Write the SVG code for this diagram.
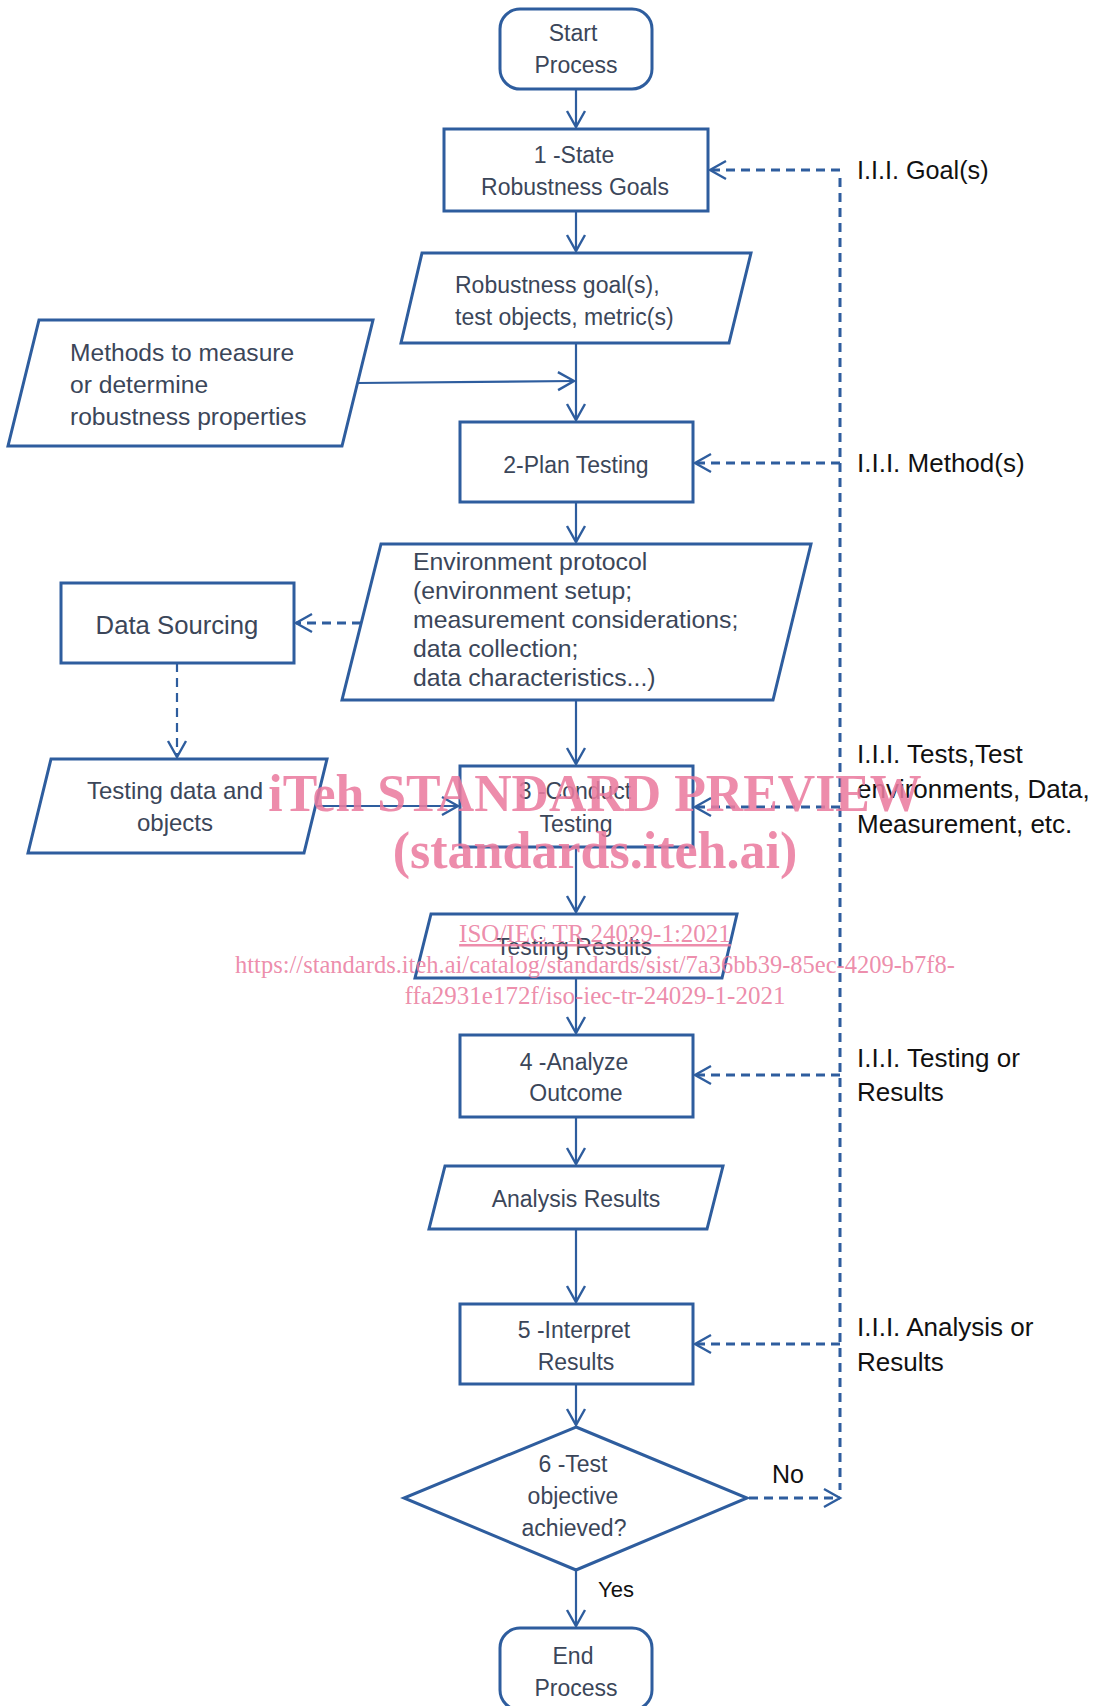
<svg xmlns="http://www.w3.org/2000/svg" width="1101" height="1706" viewBox="0 0 1101 1706">
<style>
  .box{fill:#fff;stroke:#2e5d9e;stroke-width:3}
  .t{font-family:"Liberation Sans",Arial,sans-serif;font-size:23px;fill:#3b4659}
  .c{text-anchor:middle}
  .lbl{font-family:"Liberation Sans",Arial,sans-serif;font-size:26px;fill:#111}
  .ln{fill:none;stroke:#2e5d9e;stroke-width:2.2}
  .dl{fill:none;stroke:#2e5d9e;stroke-width:3;stroke-dasharray:9 6}
  .wm{font-family:"Liberation Serif","Times New Roman",serif;fill:#ea7b9e;fill-opacity:0.87;text-anchor:middle}
</style>
<defs>
  <marker id="ah" markerUnits="userSpaceOnUse" markerWidth="24" markerHeight="24" refX="0" refY="0" viewBox="-20 -12 24 24" orient="auto">
    <path d="M-16,-9 L0,0 L-16,9" fill="none" stroke="#2e5d9e" stroke-width="2.4"/>
  </marker>
</defs>
<rect width="1101" height="1706" fill="#fff"/>

<g id="connectors">
  <line class="ln" x1="576" y1="89" x2="576" y2="127" marker-end="url(#ah)"/>
  <line class="ln" x1="576" y1="211" x2="576" y2="251" marker-end="url(#ah)"/>
  <line class="ln" x1="576" y1="343" x2="576" y2="420" marker-end="url(#ah)"/>
  <line class="ln" x1="358" y1="383" x2="574" y2="381" marker-end="url(#ah)"/>
  <line class="ln" x1="576" y1="502" x2="576" y2="542" marker-end="url(#ah)"/>
  <line class="ln" x1="576" y1="700" x2="576" y2="764" marker-end="url(#ah)"/>
  <line class="ln" x1="316" y1="806" x2="458" y2="806" marker-end="url(#ah)"/>
  <line class="ln" x1="576" y1="847" x2="576" y2="912" marker-end="url(#ah)"/>
  <line class="ln" x1="576" y1="978" x2="576" y2="1033" marker-end="url(#ah)"/>
  <line class="ln" x1="576" y1="1117" x2="576" y2="1164" marker-end="url(#ah)"/>
  <line class="ln" x1="576" y1="1229" x2="576" y2="1302" marker-end="url(#ah)"/>
  <line class="ln" x1="576" y1="1384" x2="576" y2="1425" marker-end="url(#ah)"/>
  <line class="ln" x1="576" y1="1570" x2="576" y2="1626" marker-end="url(#ah)"/>
  <line class="dl" x1="840" y1="178" x2="840" y2="1490"/>
  <line class="dl" x1="840" y1="170" x2="710" y2="170" marker-end="url(#ah)"/>
  <line class="dl" x1="840" y1="463" x2="695" y2="463" marker-end="url(#ah)"/>
  <line class="dl" x1="840" y1="807" x2="695" y2="807" marker-end="url(#ah)"/>
  <line class="dl" x1="840" y1="1075" x2="695" y2="1075" marker-end="url(#ah)"/>
  <line class="dl" x1="840" y1="1344" x2="695" y2="1344" marker-end="url(#ah)"/>
  <line class="dl" x1="749" y1="1498" x2="840" y2="1498" marker-end="url(#ah)"/>
  <line class="dl" x1="361" y1="623" x2="296" y2="623" marker-end="url(#ah)"/>
  <line class="dl" x1="177" y1="663" x2="177" y2="757" marker-end="url(#ah)" style="stroke-width:2.2"/>
</g>

<g id="start">
  <rect class="box" x="500" y="9" width="152" height="80" rx="20"/>
  <text class="t c" x="573" y="41">Start</text>
  <text class="t c" x="576" y="73">Process</text>
</g>
<g id="step1">
  <rect class="box" x="444" y="129" width="264" height="82"/>
  <text class="t c" x="574" y="163">1 -State</text>
  <text class="t c" x="575" y="195">Robustness Goals</text>
</g>
<g id="goals-data">
  <polygon class="box" points="422,253 751,253 729,343 401,343"/>
  <text class="t" x="455" y="293">Robustness goal(s),</text>
  <text class="t" x="455" y="325">test objects, metric(s)</text>
</g>
<g id="methods">
  <polygon class="box" points="39,320 373,320 342,446 8,446"/>
  <text class="t" x="70" y="361" style="font-size:24.6px">Methods to measure</text>
  <text class="t" x="70" y="393" style="font-size:24.6px">or determine</text>
  <text class="t" x="70" y="425" style="font-size:24.6px">robustness properties</text>
</g>
<g id="step2">
  <rect class="box" x="460" y="422" width="233" height="80"/>
  <text class="t c" x="576" y="473">2-Plan Testing</text>
</g>
<g id="env-protocol">
  <polygon class="box" points="381,544 811,544 773,700 342,700"/>
  <text class="t" x="413" y="570" style="font-size:24.8px">Environment protocol</text>
  <text class="t" x="413" y="599" style="font-size:24.8px">(environment setup;</text>
  <text class="t" x="413" y="628" style="font-size:24.8px">measurement considerations;</text>
  <text class="t" x="413" y="657" style="font-size:24.8px">data collection;</text>
  <text class="t" x="413" y="686" style="font-size:24.8px">data characteristics...)</text>
</g>
<g id="data-sourcing">
  <rect class="box" x="61" y="583" width="233" height="80"/>
  <text class="t c" x="177" y="634" style="font-size:25.7px">Data Sourcing</text>
</g>
<g id="testing-data">
  <polygon class="box" points="51,759 327,759 304,853 28,853"/>
  <text class="t c" x="175" y="799" style="font-size:24px">Testing data and</text>
  <text class="t c" x="175" y="831" style="font-size:24px">objects</text>
</g>
<g id="step3">
  <rect class="box" x="460" y="766" width="233" height="81"/>
  <text class="t c" x="575" y="799">3 -Conduct</text>
  <text class="t c" x="576" y="832">Testing</text>
</g>
<g id="testing-results">
  <polygon class="box" points="431,914 737,914 722,978 415,978"/>
  <text class="t c" x="574" y="955">Testing Results</text>
</g>
<g id="step4">
  <rect class="box" x="460" y="1035" width="233" height="82"/>
  <text class="t c" x="574" y="1070">4 -Analyze</text>
  <text class="t c" x="576" y="1101">Outcome</text>
</g>
<g id="analysis-results">
  <polygon class="box" points="445,1166 723,1166 707,1229 429,1229"/>
  <text class="t c" x="576" y="1207">Analysis Results</text>
</g>
<g id="step5">
  <rect class="box" x="460" y="1304" width="233" height="80"/>
  <text class="t c" x="574" y="1338">5 -Interpret</text>
  <text class="t c" x="576" y="1370">Results</text>
</g>
<g id="step6">
  <polygon class="box" points="576,1427 747,1498 576,1570 404,1498"/>
  <text class="t c" x="573" y="1472">6 -Test</text>
  <text class="t c" x="573" y="1504">objective</text>
  <text class="t c" x="574" y="1536">achieved?</text>
</g>
<g id="end">
  <rect class="box" x="500" y="1628" width="152" height="82" rx="20"/>
  <text class="t c" x="573" y="1664">End</text>
  <text class="t c" x="576" y="1696">Process</text>
</g>

<g id="labels">
  <text class="lbl" x="857" y="179" style="font-size:25.2px">I.I.I. Goal(s)</text>
  <text class="lbl" x="857" y="472">I.I.I. Method(s)</text>
  <text class="lbl" x="857" y="763">I.I.I. Tests,Test</text>
  <text class="lbl" x="857" y="798">environments, Data,</text>
  <text class="lbl" x="857" y="833">Measurement, etc.</text>
  <text class="lbl" x="857" y="1067">I.I.I. Testing or</text>
  <text class="lbl" x="857" y="1101">Results</text>
  <text class="lbl" x="857" y="1336">I.I.I. Analysis or</text>
  <text class="lbl" x="857" y="1371">Results</text>
  <text class="lbl" x="772" y="1483" style="font-size:25px">No</text>
  <text class="lbl" x="598" y="1597" style="font-size:22px">Yes</text>
</g>

<g id="watermark">
  <text class="wm" x="595" y="811" style="font-size:51.8px;font-weight:bold">iTeh STANDARD PREVIEW</text>
  <text class="wm" x="595" y="868" style="font-size:52px;font-weight:bold">(standards.iteh.ai)</text>
  <text class="wm" x="595" y="942" style="font-size:25px;text-decoration:underline">ISO/IEC TR 24029-1:2021</text>
  <text class="wm" x="595" y="973" style="font-size:24.5px">https://standards.iteh.ai/catalog/standards/sist/7a36bb39-85ec-4209-b7f8-</text>
  <text class="wm" x="595" y="1004" style="font-size:25px">ffa2931e172f/iso-iec-tr-24029-1-2021</text>
</g>
</svg>
